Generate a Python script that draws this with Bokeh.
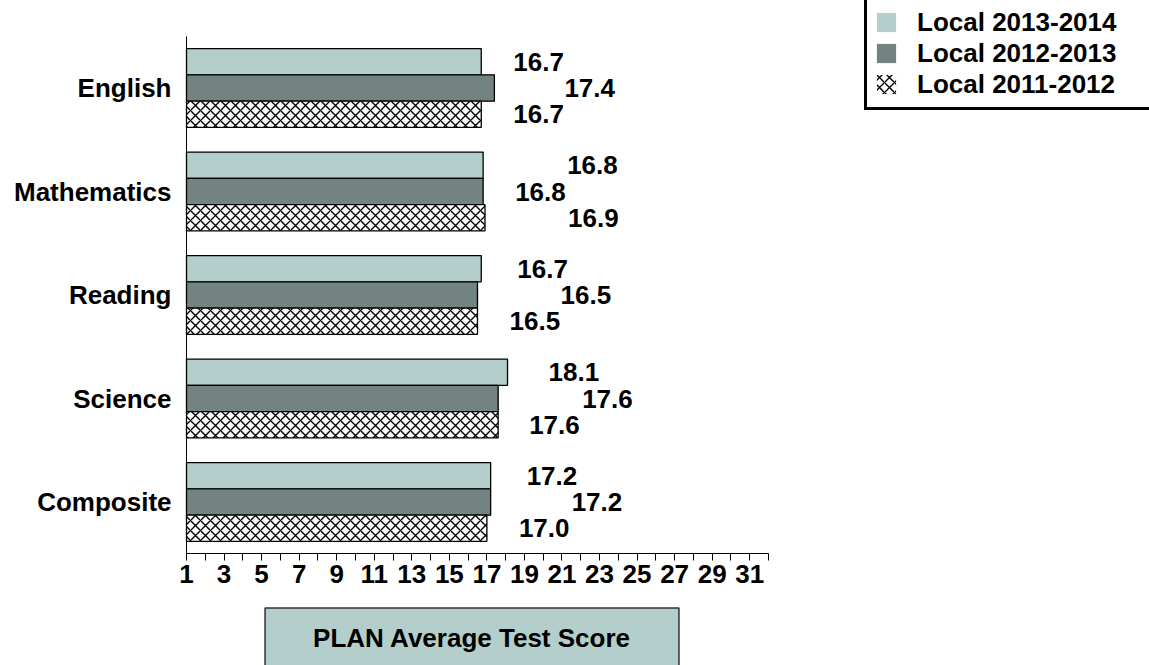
from bokeh.plotting import figure
from bokeh.models import (Range1d, FixedTicker, Legend, LegendItem,
                          ColumnDataSource, Label)
from bokeh.transform import dodge
from bokeh.core.properties import value
from bokeh.embed import file_html
from bokeh.resources import INLINE

# ---- data ----
subjects = ["English", "Mathematics", "Reading", "Science", "Composite"]
series_names = ["Local 2013-2014", "Local 2012-2013", "Local 2011-2012"]
scores_2013_2014 = [16.7, 16.8, 16.7, 18.1, 17.2]
scores_2012_2013 = [17.4, 16.8, 16.5, 17.6, 17.2]
scores_2011_2012 = [16.7, 16.9, 16.5, 17.6, 17.0]
x_tick_values = list(range(1, 32, 2))
x_axis_min, x_axis_max = 1, 32
axis_title = "PLAN Average Test Score"

# ---- styles / label placement (pixels right of bar end) ----
label_dx_2013_2014 = [32, 84, 36, 41, 36]
label_dx_2012_2013 = [70, 32, 83, 84, 81]
label_dx_2011_2012 = [32, 83, 32, 31, 32]
LIGHT = "#B4CFCB"
DARK = "#728381"
FONT = "Liberation Sans"

# category positions: first subject at top
cat_pos = list(range(len(subjects) - 1, -1, -1))

W, H = 1149, 665
AXIS_X_PX = 186               # pixel column of the value axis origin
px_per_unit = 18.774          # horizontal scale
px_per_cat = 103.5            # vertical scale
top_pad_px = 87.5             # canvas top to first category centre
x_start = x_axis_min - AXIS_X_PX / px_per_unit
x_end = x_start + W / px_per_unit
y_end = cat_pos[0] + top_pad_px / px_per_cat
y_start = y_end - H / px_per_cat

p = figure(width=W, height=H, output_backend="svg", toolbar_location=None,
           x_range=Range1d(x_start, x_end), y_range=Range1d(y_start, y_end),
           min_border_left=0, min_border_right=0, min_border_top=0,
           min_border_bottom=0)
p.outline_line_color = None
p.xgrid.grid_line_color = None
p.ygrid.grid_line_color = None
p.background_fill_color = "white"

bar_h = 0.254
hatch = dict(hatch_pattern="diagonal_cross", hatch_color="black",
             hatch_scale=10, hatch_weight=1.4)
series = [
    (scores_2013_2014, label_dx_2013_2014, bar_h, dict(fill_color=LIGHT)),
    (scores_2012_2013, label_dx_2012_2013, 0.0, dict(fill_color=DARK)),
    (scores_2011_2012, label_dx_2011_2012, -bar_h, dict(fill_color="white", **hatch)),
]

items = []
for name, (vals, dxs, off, style) in zip(series_names, series):
    src = ColumnDataSource(dict(pos=cat_pos, score=vals,
                                label=["%.1f" % v for v in vals], dx=dxs))
    # un-outlined copy (used for the legend key), covered by the outlined bars
    key = p.hbar(y=dodge("pos", off), left=x_axis_min, right="score",
                 height=bar_h, source=src, line_color=None, **style)
    p.hbar(y=dodge("pos", off), left=x_axis_min, right="score",
           height=bar_h, source=src, line_color="black", line_width=1.3, **style)
    p.text(x="score", y=dodge("pos", off), text="label",
           x_offset="dx", source=src, text_baseline="middle", text_align="left",
           text_font=value(FONT), text_font_style="bold", text_font_size="26px",
           text_color="black")
    items.append(LegendItem(label=name, renderers=[key]))

# x axis, drawn at the bottom edge of the last category
ax = p.xaxis[0]
ax.fixed_location = cat_pos[-1] - 0.5
ax.bounds = (x_axis_min, x_axis_max)
ax.ticker = FixedTicker(ticks=x_tick_values,
                        minor_ticks=list(range(x_axis_min + 1, x_axis_max + 1, 2)))
ax.major_tick_out = 7
ax.major_tick_in = 0
ax.minor_tick_out = 7
ax.minor_tick_in = 0
ax.major_label_standoff = 4
ax.major_label_text_font = FONT
ax.major_label_text_font_style = "bold"
ax.major_label_text_font_size = "26px"
ax.major_label_text_color = "black"
ax.axis_line_color = "black"
ax.major_tick_line_color = "black"
ax.minor_tick_line_color = "black"

ay = p.yaxis[0]
ay.fixed_location = x_axis_min
ay.bounds = (cat_pos[-1] - 0.5, cat_pos[0] + 0.5)
ay.ticker = FixedTicker(ticks=cat_pos, minor_ticks=[])
ay.major_label_overrides = {pos: name for pos, name in zip(cat_pos, subjects)}
ay.major_tick_line_color = None
ay.minor_tick_line_color = None
ay.major_tick_out = 0
ay.major_label_standoff = 15
ay.major_label_text_font = FONT
ay.major_label_text_font_style = "bold"
ay.major_label_text_font_size = "26px"
ay.major_label_text_color = "black"
ay.axis_line_color = "black"

legend = Legend(items=items, location=(864, 555.5), padding=7, spacing=0,
                glyph_width=24, glyph_height=24, label_height=24, label_width=226,
                label_standoff=19, label_text_font=FONT, label_text_font_style="bold",
                label_text_font_size="26px", label_text_color="black",
                border_line_color="black", border_line_width=3, border_line_alpha=1,
                background_fill_color="white", background_fill_alpha=1, margin=0)
p.add_layout(legend)

title = Label(x=471.5, y=27.5, x_units="screen", y_units="screen", text=axis_title,
              text_align="center", text_baseline="middle", text_font=FONT,
              text_font_style="bold", text_font_size="26px", text_color="black",
              background_fill_color=LIGHT, background_fill_alpha=1,
              border_line_color="#333333", border_line_width=1.5,
              padding=dict(left=48, right=48, top=15, bottom=15))
p.add_layout(title)

open("out.html", "w").write(file_html(p, INLINE))
